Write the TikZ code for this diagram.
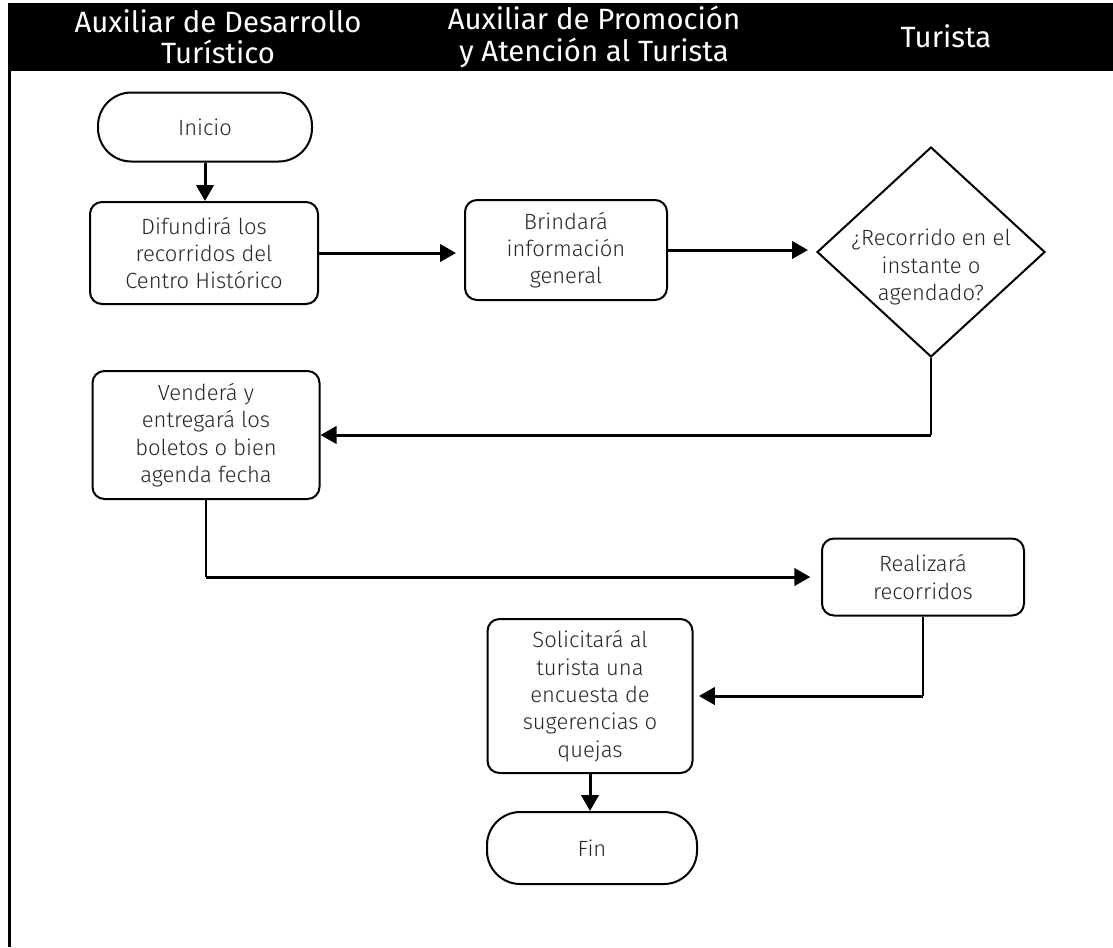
\documentclass[tikz,border=0pt]{standalone}
\usepackage{fontspec}
\setmainfont{Fira Sans}
\newfontfamily\boxfont{Fira Sans Light}
\usetikzlibrary{arrows.meta,shapes.geometric}

\tikzset{
  lane/.style={text=white, align=center, font=\fontsize{22}{23.5}\selectfont},
  boxtext/.style={text=black!85, align=center, font=\boxfont\fontsize{16.5}{20.5}\selectfont},
  term/.style={boxtext, draw, line width=1.5pt, rounded corners=25pt, inner sep=0pt},
  task/.style={boxtext, draw, line width=1.5pt, rounded corners=9pt, inner sep=0pt},
  decision/.style={draw, diamond, line width=1.5pt, inner sep=0pt, minimum width=171pt, minimum height=157.5pt},
  flow/.style={line width=2.25pt, -{Triangle[length=12pt,width=13pt]}},
  thinline/.style={line width=1pt}
}

\begin{document}
\begin{tikzpicture}[x=0.75pt, y=-0.75pt]
  \useasboundingbox (0,0) rectangle (1113,947);

  % header
  \fill (8,3) rectangle (1113,71);
  \draw [line width=2.25pt] (9.5,70) -- (9.5,947);
  \node [lane] (laneA) at (218,37) {Auxiliar de Desarrollo\\Turístico};
  \node [lane] (laneB) at (594,37) {Auxiliar de Promoción\\y Atención al Turista};
  \node [lane] (laneC) at (946,36) {Turista};

  % steps
  \node [term, minimum width=160.5pt, minimum height=51.75pt] (inicio) at (205,127) {Inicio};
  \node [task, minimum width=171pt, minimum height=76.5pt] (difunde) at (204,253) {Difundirá los\\recorridos del\\Centro Histórico};
  \node [task, minimum width=151.5pt, minimum height=75pt] (brinda) at (566,250) {Brindará\\información\\general};
  \node [decision] (decide) at (931,252) {};
  \node [boxtext] (pregunta) at (931,267) {¿Recorrido en el\\instante o\\agendado?};
  \node [task, minimum width=170.25pt, minimum height=96pt] (venta) at (206,435) {Venderá y\\entregará los\\boletos o bien\\agenda fecha};
  \node [task, minimum width=151.5pt, minimum height=57.75pt] (recorre) at (923,577) {Realizará\\recorridos};
  \node [task, minimum width=153.75pt, minimum height=115.5pt] (encuesta) at (590,696) {Solicitará al\\turista una\\encuesta de\\sugerencias o\\quejas};
  \node [term, minimum width=157.5pt, minimum height=54pt] (fin) at (592,848) {Fin};

  % connectors
  \draw [flow] (inicio.south) -- (inicio.south |- difunde.north);
  \draw [flow, shorten >=6pt] (difunde.east) -- (difunde.east -| brinda.west);
  \draw [flow, shorten >=6pt] (brinda.east) -- (brinda.east -| decide.west);
  \draw [thinline] (decide.south) -- (decide.south |- venta.east);
  \draw [flow] (decide.south |- venta.east) -- (venta.east);
  \draw [thinline] (venta.south) -- (venta.south |- recorre.west);
  \draw [flow, shorten >=8pt] (venta.south |- recorre.west) -- (recorre.west);
  \draw [thinline] (recorre.south) -- (recorre.south |- encuesta.east);
  \draw [flow, shorten >=4pt] (recorre.south |- encuesta.east) -- (encuesta.east);
  \draw [flow] (encuesta.south) -- (encuesta.south |- fin.north);
\end{tikzpicture}
\end{document}
